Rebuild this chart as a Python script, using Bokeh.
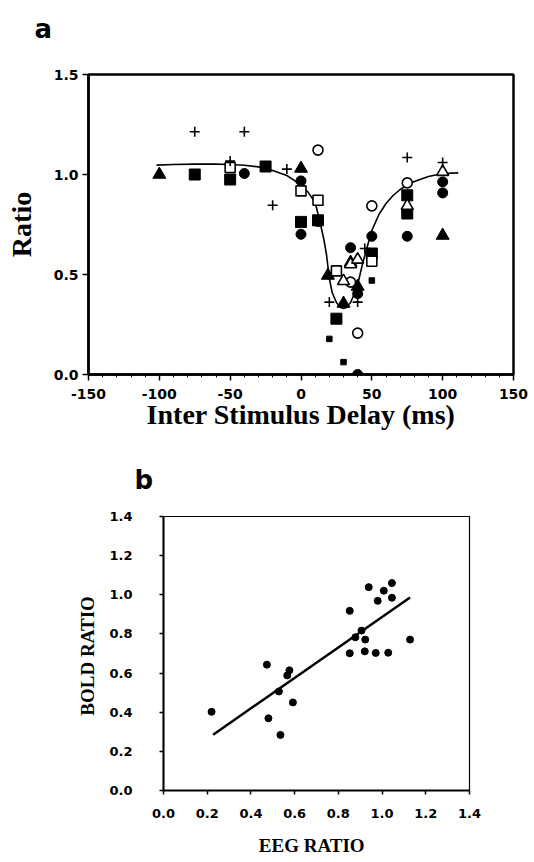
from bokeh.plotting import figure
from bokeh.models import Range1d, FixedTicker
from bokeh.embed import file_html
from bokeh.resources import INLINE

# ---------------- panel a data ----------------
a_xticks = [-150, -100, -50, 0, 50, 100, 150]
a_xlabels = ["-150", "-100", "-50", "0", "50", "100", "150"]
a_yticks = [0.0, 0.5, 1.0, 1.5]
a_ylabels = ["0.0", "0.5", "1.0", "1.5"]

fit_delay = [-102, -90, -75, -60, -50, -40, -30, -20, -10, -5, 0, 5, 10, 13, 16, 18, 20, 22, 25,
             28, 30, 32, 35, 38, 40, 43, 46, 50, 55, 60, 65, 70, 75, 80, 90, 100, 111]
fit_ratio = [1.047, 1.050, 1.052, 1.052, 1.050, 1.046, 1.038, 1.020, 0.995, 0.972, 0.945, 0.912,
             0.860, 0.775, 0.680, 0.600, 0.480, 0.410, 0.360, 0.335, 0.330, 0.335, 0.360, 0.410,
             0.450, 0.540, 0.620, 0.720, 0.800, 0.855, 0.895, 0.925, 0.947, 0.965, 0.990, 1.005, 1.008]

tri_f_x = [-100, 0, 19, 30, 35, 40, 100]
tri_f_y = [1.00, 1.03, 0.495, 0.355, 0.56, 0.44, 0.695]

sq_f_x = [-75, -50, -25, 0, 12, 25, 50, 75, 75]
sq_f_y = [1.00, 0.975, 1.04, 0.763, 0.771, 0.279, 0.605, 0.896, 0.805]

sq_s_x = [20, 30, 50]
sq_s_y = [0.178, 0.062, 0.47]

circ_f_x = [-40, 0, 0, 12, 35, 40, 40, 50, 75, 100, 100]
circ_f_y = [1.005, 0.968, 0.701, 0.765, 0.634, 0.404, 0.0, 0.691, 0.691, 0.963, 0.908]

sq_o_x = [-50, 0, 12, 25, 50]
sq_o_y = [1.035, 0.918, 0.871, 0.518, 0.566]

circ_o_x = [12, 35, 40, 50, 75]
circ_o_y = [1.122, 0.462, 0.207, 0.843, 0.958]

tri_o_x = [30, 35, 40, 75, 100]
tri_o_y = [0.467, 0.551, 0.574, 0.843, 1.013]

plus_x = [-75, -40, -50, -20, -10, 20, 40, 45, 75, 100]
plus_y = [1.214, 1.214, 1.067, 0.846, 1.027, 0.362, 0.362, 0.63, 1.085, 1.06]

# ---------------- panel b data ----------------
b_ticks = [0.0, 0.2, 0.4, 0.6, 0.8, 1.0, 1.2, 1.4]
b_labels = ["0.0", "0.2", "0.4", "0.6", "0.8", "1.0", "1.2", "1.4"]

eeg_ratio = [0.220, 0.473, 0.480, 0.528, 0.535, 0.566, 0.576, 0.592, 0.852, 0.852, 0.878,
             0.906, 0.923, 0.921, 0.939, 0.971, 0.980, 1.008, 1.028, 1.045, 1.045, 1.128]
bold_ratio = [0.402, 0.643, 0.369, 0.506, 0.284, 0.588, 0.614, 0.450, 0.918, 0.701, 0.783,
              0.817, 0.771, 0.711, 1.039, 0.703, 0.969, 1.021, 0.704, 1.060, 0.985, 0.771]

reg_x = [0.227, 1.128]
reg_y = [0.285, 0.986]

SANS = "DejaVu Sans"
SERIF = "Liberation Serif"


def style_title(p, text, offset, standoff):
    p.title.text = text
    p.title.align = "left"
    p.title.offset = offset
    p.title.standoff = standoff
    p.title.text_font = SANS
    p.title.text_font_style = "bold"
    p.title.text_font_size = "26px"
    p.title.text_color = "black"


# ================= panel a =================
pa = figure(width=534, height=440, output_backend="svg", toolbar_location=None,
            x_range=Range1d(-150, 150), y_range=Range1d(0, 1.5),
            min_border_left=88, min_border_right=21, min_border_top=74, min_border_bottom=66)
pa.grid.visible = False
pa.outline_line_color = "black"
pa.outline_line_width = 2.5
pa.background_fill_color = "white"
pa.border_fill_color = "white"
style_title(pa, "a\n", -54, 2)

pa.xaxis.ticker = FixedTicker(ticks=a_xticks, minor_ticks=list(range(-150, 151, 10)))
pa.xaxis.major_label_overrides = {t: l for t, l in zip(a_xticks, a_xlabels)}
pa.yaxis.ticker = FixedTicker(ticks=a_yticks)
pa.yaxis.major_label_overrides = {t: l for t, l in zip(a_yticks, a_ylabels)}

for ax in (pa.xaxis[0], pa.yaxis[0]):
    ax.axis_line_width = 2.5
    ax.axis_line_color = "black"
    ax.major_tick_line_color = "black"
    ax.major_tick_line_width = 1.5
    ax.major_tick_out = 6
    ax.major_tick_in = 0
    ax.minor_tick_line_color = "black"
    ax.minor_tick_line_width = 1
    ax.minor_tick_out = 3
    ax.minor_tick_in = 0
    ax.major_label_text_font = SANS
    ax.major_label_text_font_style = "bold"
    ax.major_label_text_font_size = "14px"
    ax.major_label_text_color = "black"
    ax.axis_label_text_font = SERIF
    ax.axis_label_text_font_style = "bold"
    ax.axis_label_text_font_size = "28px"
    ax.axis_label_text_color = "black"
pa.yaxis.minor_tick_line_color = None
pa.xaxis.major_label_standoff = 8
pa.yaxis.major_label_standoff = 4
pa.xaxis.axis_label = "Inter Stimulus Delay (ms)"
pa.yaxis.axis_label = "Ratio"
pa.xaxis.axis_label_standoff = -3
pa.yaxis.axis_label_standoff = 14

pa.line(fit_delay, fit_ratio, line_color="black", line_width=1.6)

pa.scatter(tri_f_x, tri_f_y, marker="triangle", size=13, fill_color="black", line_color="black")
pa.scatter(sq_f_x, sq_f_y, marker="square", size=11, fill_color="black", line_color="black")
pa.scatter(sq_s_x, sq_s_y, marker="square", size=5.5, fill_color="black", line_color="black")
pa.scatter(circ_f_x, circ_f_y, marker="circle", size=10, fill_color="black", line_color="black")
pa.scatter(sq_o_x, sq_o_y, marker="square", size=10, fill_color="white", line_color="black", line_width=1.6)
pa.scatter(circ_o_x, circ_o_y, marker="circle", size=10, fill_color="white", line_color="black", line_width=1.6)
pa.scatter(tri_o_x, tri_o_y, marker="triangle", size=12, fill_color="white", line_color="black", line_width=1.6)
pa.scatter(plus_x, plus_y, marker="cross", size=10, line_color="black", line_width=1.6)

# ================= panel b =================
pb = figure(width=534, height=418, output_backend="svg", toolbar_location=None,
            x_range=Range1d(0, 1.4), y_range=Range1d(0, 1.4),
            min_border_left=163, min_border_right=65, min_border_top=76, min_border_bottom=68)
pb.grid.visible = False
pb.outline_line_color = "black"
pb.outline_line_width = 1.2
pb.background_fill_color = "white"
pb.border_fill_color = "white"
style_title(pb, "b", -29, 44)

for ax in (pb.xaxis[0], pb.yaxis[0]):
    ax.ticker = FixedTicker(ticks=b_ticks)
    ax.major_label_overrides = {t: l for t, l in zip(b_ticks, b_labels)}
    ax.axis_line_width = 2
    ax.axis_line_color = "black"
    ax.major_tick_line_color = "black"
    ax.major_tick_line_width = 1.5
    ax.major_tick_out = 4
    ax.major_tick_in = 0
    ax.minor_tick_line_color = None
    ax.major_label_text_font = SANS
    ax.major_label_text_font_style = "bold"
    ax.major_label_text_font_size = "13px"
    ax.major_label_text_color = "black"
    ax.axis_label_text_font = SERIF
    ax.axis_label_text_font_style = "bold"
    ax.axis_label_text_font_size = "19px"
    ax.axis_label_text_color = "black"

pb.yaxis.major_label_standoff = 27
pb.yaxis.axis_label = "BOLD  RATIO"
pb.yaxis.axis_label_standoff = 8
pb.xaxis.major_label_standoff = 14
pb.xaxis.axis_label = "EEG   RATIO"
pb.xaxis.axis_label_standoff = 14

pb.line(reg_x, reg_y, line_color="black", line_width=2.5)
pb.scatter(eeg_ratio, bold_ratio, marker="circle", size=7, fill_color="black", line_color="black")

open("out.html", "w").write(file_html([pa, pb], INLINE))
